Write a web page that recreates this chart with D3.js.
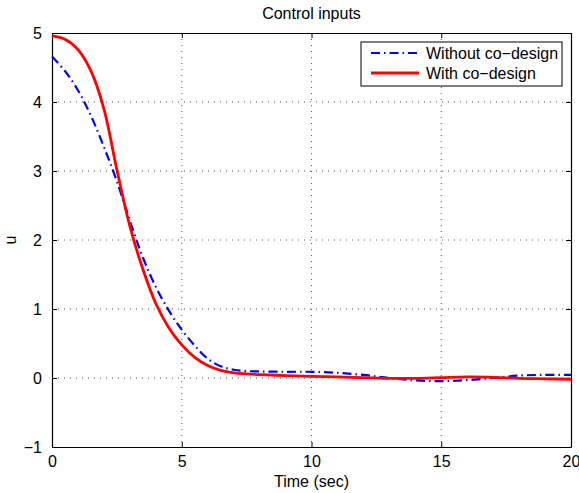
<!DOCTYPE html>
<html lang="en">
<head>
<meta charset="UTF-8">
<title>Control inputs</title>
<script src="https://cdn.jsdelivr.net/npm/d3@7"></script>
<style>
  html, body { margin: 0; padding: 0; background: #fff; }
  svg { display: block; font-family: "Liberation Sans", Arial, sans-serif; }
</style>
</head>
<body>
<svg id="chart" width="579" height="493"></svg>
<script>
// time samples (sec)
var tWithout = [0, 0.5, 1, 1.5, 2, 2.5, 3, 3.5, 4, 4.5, 5, 5.5, 6, 6.5, 7, 7.5, 8, 9, 10, 11, 12, 13, 14, 15, 16, 17, 18, 19, 20];
var uWithout = [4.66, 4.45, 4.17, 3.8, 3.35, 2.85, 2.28, 1.75, 1.32, 0.98, 0.70, 0.47, 0.28, 0.17, 0.12, 0.10, 0.095, 0.09, 0.09, 0.075, 0.045, 0.0, -0.035, -0.045, -0.03, 0.0, 0.035, 0.045, 0.045];

var tWith = [0, 0.5, 1, 1.5, 2, 2.5, 3, 3.5, 4, 4.5, 5, 5.5, 6, 6.5, 7, 7.5, 8, 9, 10, 11, 12, 13, 14, 15, 16, 17, 18, 19, 20];
var uWith = [4.96, 4.91, 4.76, 4.45, 3.9, 3.02, 2.2, 1.58, 1.08, 0.73, 0.48, 0.30, 0.18, 0.11, 0.075, 0.06, 0.05, 0.035, 0.025, 0.015, 0.005, -0.005, -0.005, 0.005, 0.015, 0.01, -0.005, -0.012, -0.018];

var xTicks = [0, 5, 10, 15, 20];
var yTicks = [-1, 0, 1, 2, 3, 4, 5];
var legendLabels = ["Without co\u2212design", "With co\u2212design"];

var svg = d3.select("#chart");
var mLeft = 52, mRight = 571, mTop = 33, mBottom = 447;

var x = d3.scaleLinear().domain([0, 20]).range([mLeft, mRight]);
var y = d3.scaleLinear().domain([-1, 5]).range([mBottom, mTop]);

// grid
var grid = svg.append("g");
grid.selectAll("line.gx").data(xTicks.slice(1, -1)).enter().append("line")
    .attr("x1", d => x(d)).attr("x2", d => x(d))
    .attr("y1", mTop).attr("y2", mBottom)
    .attr("stroke", "#555").attr("stroke-width", 1).attr("stroke-dasharray", "1,5");
grid.selectAll("line.gy").data(yTicks.slice(1, -1)).enter().append("line")
    .attr("x1", mLeft).attr("x2", mRight)
    .attr("y1", d => y(d)).attr("y2", d => y(d))
    .attr("stroke", "#555").attr("stroke-width", 1).attr("stroke-dasharray", "1,5");

// axes, ticks inward on all sides (box on)
var fs = "16px";
var axB = svg.append("g").attr("transform", "translate(0," + mBottom + ")")
    .call(d3.axisBottom(x).tickValues(xTicks).tickSizeInner(-5).tickSizeOuter(0).tickPadding(9));
var axT = svg.append("g").attr("transform", "translate(0," + mTop + ")")
    .call(d3.axisTop(x).tickValues(xTicks).tickSizeInner(-5).tickSizeOuter(0).tickFormat(""));
var axL = svg.append("g").attr("transform", "translate(" + mLeft + ",0)")
    .call(d3.axisLeft(y).tickValues(yTicks).tickSizeInner(-5).tickSizeOuter(0).tickPadding(10)
      .tickFormat(d => d < 0 ? "\u2212" + Math.abs(d) : d));
var axR = svg.append("g").attr("transform", "translate(" + mRight + ",0)")
    .call(d3.axisRight(y).tickValues(yTicks).tickSizeInner(-5).tickSizeOuter(0).tickFormat(""));
[axB, axT, axL, axR].forEach(function(a) {
  a.select(".domain").attr("stroke", "#000").attr("stroke-width", 1.2);
  a.selectAll(".tick line").attr("stroke", "#000");
  a.selectAll("text").attr("font-size", fs).attr("fill", "#000").attr("font-family", "Liberation Sans, Arial, sans-serif");
});

// lines
var lineGen = d3.line().x(d => x(d[0])).y(d => y(d[1])).curve(d3.curveCatmullRom);
var dWithout = tWithout.map((t, i) => [t, uWithout[i]]);
var dWith = tWith.map((t, i) => [t, uWith[i]]);

svg.append("path").datum(dWithout).attr("d", lineGen)
    .attr("fill", "none").attr("stroke", "#0000ff").attr("stroke-width", 2.2)
    .attr("stroke-dasharray", "9,4,1.5,4");
svg.append("path").datum(dWith).attr("d", lineGen)
    .attr("fill", "none").attr("stroke", "#ff0000").attr("stroke-width", 2.8);

// title & labels
svg.append("text").attr("x", (mLeft + mRight) / 2).attr("y", 19)
    .attr("text-anchor", "middle").attr("font-size", fs).text("Control inputs");
svg.append("text").attr("x", (mLeft + mRight) / 2).attr("y", 487)
    .attr("text-anchor", "middle").attr("font-size", fs).text("Time (sec)");
svg.append("text").attr("transform", "translate(16," + ((mTop + mBottom) / 2) + ") rotate(-90)")
    .attr("text-anchor", "middle").attr("font-size", fs).text("u");

// legend
var lg = svg.append("g");
lg.append("rect").attr("x", 361).attr("y", 42).attr("width", 201).attr("height", 44)
    .attr("fill", "#fff").attr("stroke", "#000").attr("stroke-width", 1);
var rows = [
  { label: legendLabels[0], color: "#0000ff", dash: "9,4,1.5,4", w: 2.2 },
  { label: legendLabels[1], color: "#ff0000", dash: null, w: 2.8 }
];
rows.forEach(function(r, i) {
  var yy = 53 + i * 20;
  lg.append("line").attr("x1", 371).attr("x2", 419).attr("y1", yy).attr("y2", yy)
    .attr("stroke", r.color).attr("stroke-width", r.w).attr("stroke-dasharray", r.dash);
  lg.append("text").attr("x", 426).attr("y", yy + 6).attr("font-size", fs).text(r.label);
});
</script>
</body>
</html>
